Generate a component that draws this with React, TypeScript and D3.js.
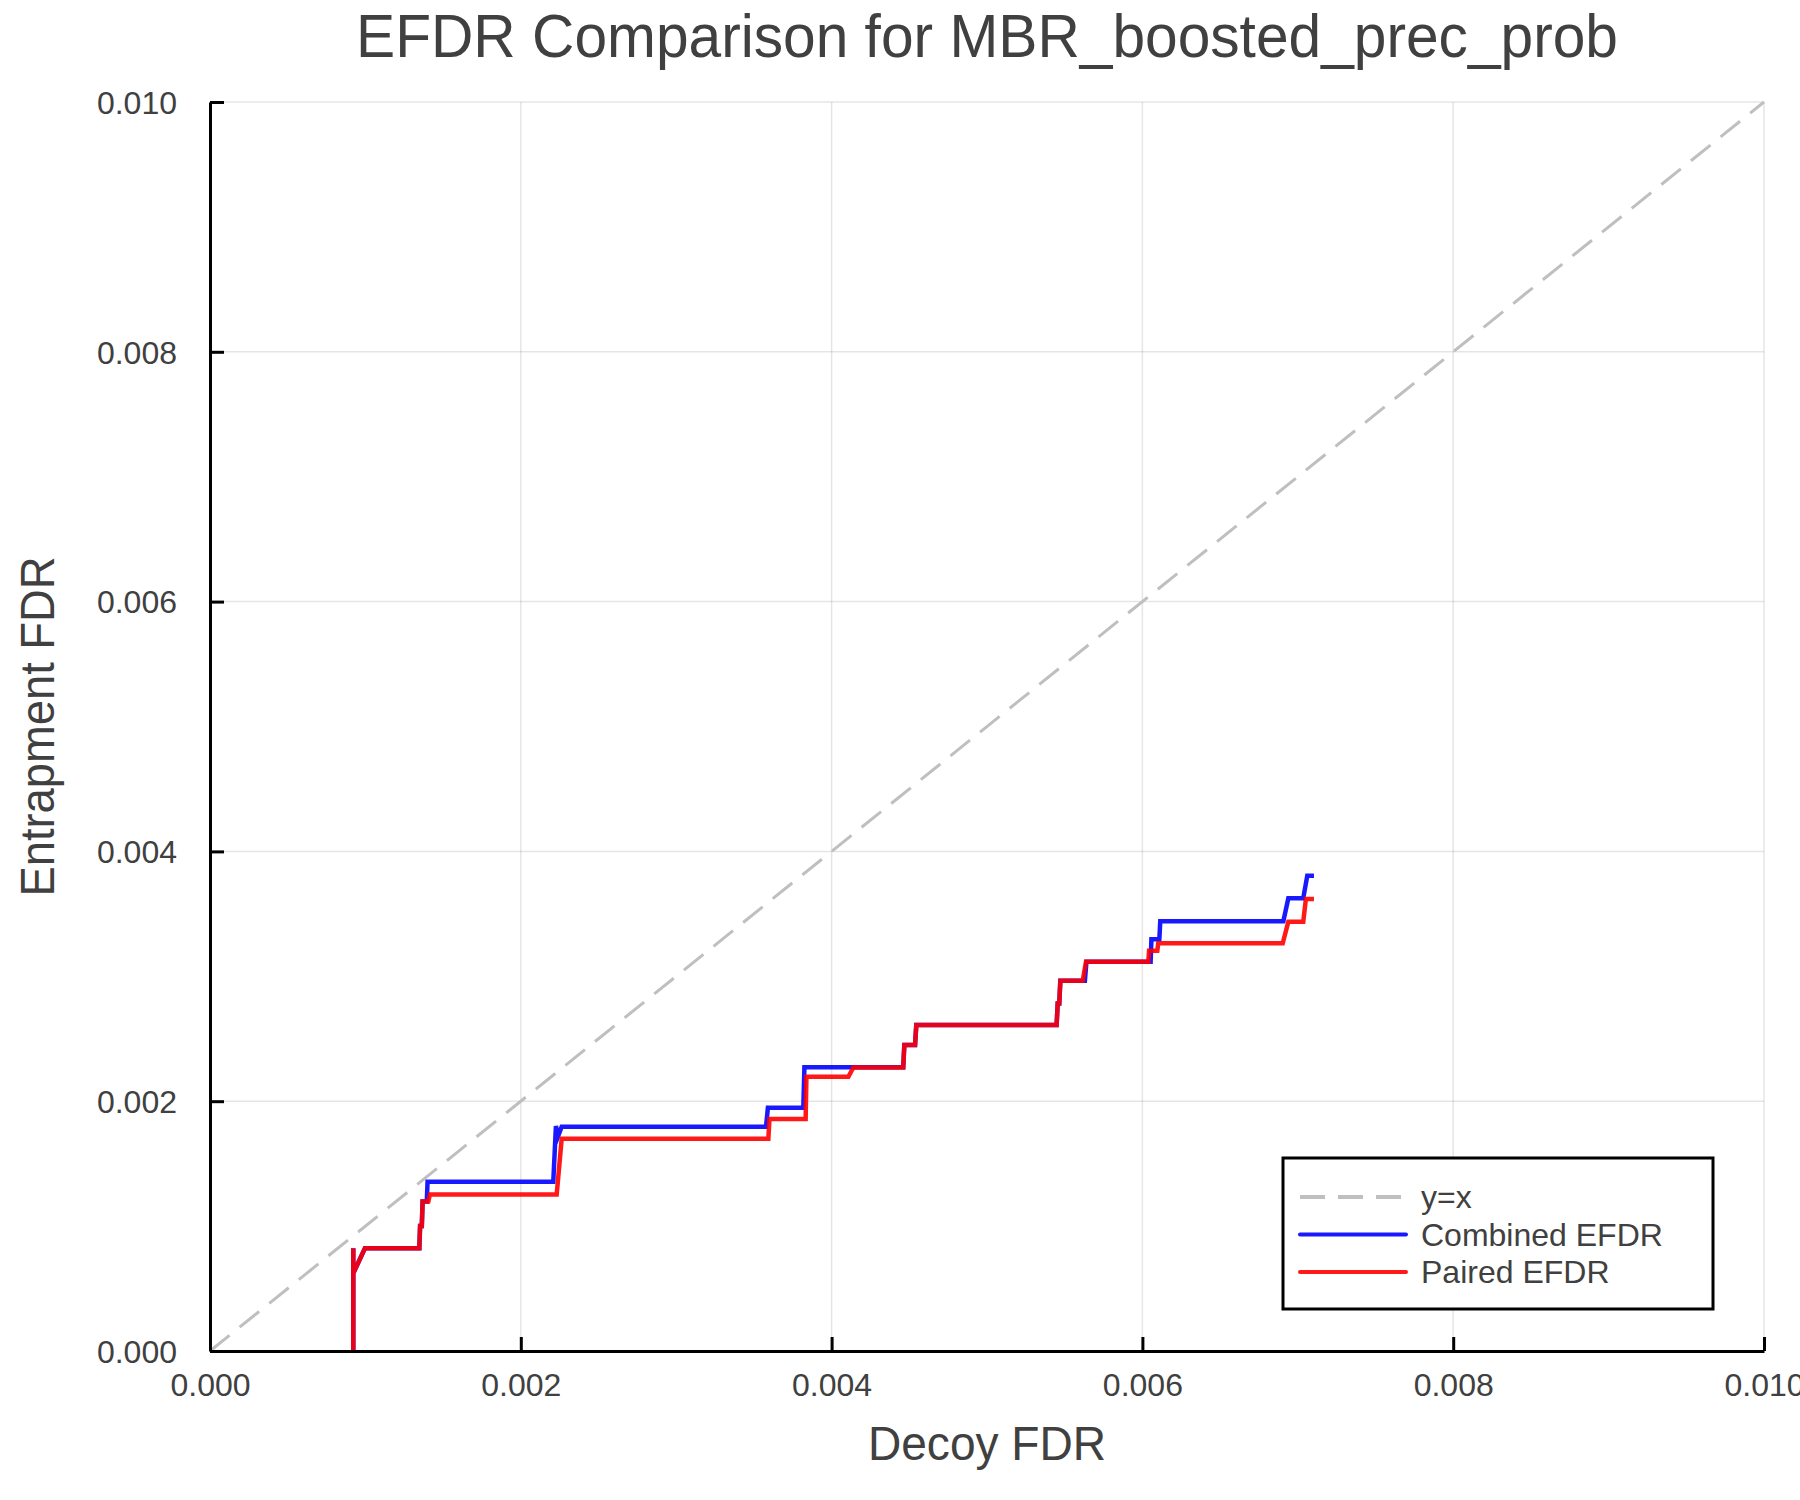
import React, { useEffect, useRef } from "react";
import * as d3 from "d3";

// tick values (both axes)
const ticks = [0, 0.002, 0.004, 0.006, 0.008, 0.01];

// Combined EFDR curve
const combinedX = [
  0.000922, 0.000922, 0.000922, 0.000997, 0.001347, 0.001352, 0.001363, 0.001368,
  0.001395, 0.0014, 0.002209, 0.002226, 0.00224, 0.002263, 0.003578, 0.00359,
  0.003818, 0.003825, 0.004461, 0.004468, 0.004537, 0.004545, 0.005448, 0.005455,
  0.005465, 0.005472, 0.00563, 0.00564, 0.006053, 0.006058, 0.006109, 0.006115,
  0.006907, 0.006939, 0.007035, 0.007061, 0.007104,
];
const combinedY = [
  0, 0.000822, 0.000622, 0.000822, 0.000822, 0.001001, 0.001001, 0.001196,
  0.001196, 0.001356, 0.001356, 0.001801, 0.00172, 0.001796, 0.001796, 0.001948,
  0.001948, 0.002271, 0.002271, 0.00245, 0.00245, 0.00261, 0.00261, 0.002783,
  0.002783, 0.002965, 0.002965, 0.003117, 0.003117, 0.003296, 0.003296, 0.003441,
  0.003441, 0.003624, 0.003624, 0.003806, 0.003806,
];

// Paired EFDR curve
const pairedX = [
  0.000922, 0.000922, 0.000922, 0.000997, 0.001347, 0.001352, 0.001363, 0.001368,
  0.001405, 0.001415, 0.002231, 0.002263, 0.003593, 0.0036, 0.003833, 0.003838,
  0.004108, 0.00414, 0.004461, 0.004468, 0.004537, 0.004545, 0.005448, 0.005455,
  0.005465, 0.005472, 0.005616, 0.005637, 0.006038, 0.006043, 0.006096, 0.006102,
  0.006903, 0.006939, 0.007035, 0.007052, 0.007104,
];
const pairedY = [
  0, 0.000822, 0.000622, 0.000822, 0.000822, 0.001001, 0.001001, 0.001196,
  0.001196, 0.001254, 0.001254, 0.001699, 0.001699, 0.001857, 0.001857, 0.002196,
  0.002196, 0.00227, 0.00227, 0.00245, 0.00245, 0.00261, 0.00261, 0.002783,
  0.002783, 0.002965, 0.002965, 0.003117, 0.003117, 0.003205, 0.003205, 0.003264,
  0.003264, 0.003437, 0.003437, 0.003619, 0.003619,
];

const legendItems = [
  { label: "y=x", color: "#bfbfbf", dash: "25 13" },
  { label: "Combined EFDR", color: "#0000ff", dash: null },
  { label: "Paired EFDR", color: "#ff0000", dash: null },
];

const FONT = "'Liberation Sans', Arial, Helvetica, sans-serif";
const TEXT = "#404040";

const App = () => {
  const svgRef = useRef<SVGSVGElement | null>(null);
  const w = 1800;
  const h = 1500;
  const m = { top: 102, right: 36, bottom: 149, left: 210 };

  useEffect(() => {
    document.body.style.margin = "0";
    const svg = d3.select(svgRef.current);
    svg.selectAll("*").remove();
    svg.attr("width", w).attr("height", h).style("background", "#fff");

    const xScale = d3.scaleLinear().domain([0, 0.01]).range([m.left, w - m.right]);
    const yScale = d3.scaleLinear().domain([0, 0.01]).range([h - m.bottom, m.top]);

    // grid
    const grid = svg.append("g");
    grid.selectAll(".gx").data(ticks).enter().append("line")
      .attr("x1", (d) => xScale(d)).attr("x2", (d) => xScale(d))
      .attr("y1", yScale(0)).attr("y2", yScale(0.01))
      .attr("stroke", "#000").attr("stroke-opacity", 0.1).attr("stroke-width", 1.5);
    grid.selectAll(".gy").data(ticks).enter().append("line")
      .attr("y1", (d) => yScale(d)).attr("y2", (d) => yScale(d))
      .attr("x1", xScale(0)).attr("x2", xScale(0.01))
      .attr("stroke", "#000").attr("stroke-opacity", 0.1).attr("stroke-width", 1.5);

    // y = x reference line
    svg.append("line")
      .attr("x1", xScale(0)).attr("y1", yScale(0))
      .attr("x2", xScale(0.01)).attr("y2", yScale(0.01))
      .attr("stroke", "#bfbfbf").attr("stroke-width", 3)
      .attr("stroke-dasharray", "25 13");

    const line = d3.line<[number, number]>()
      .x((d) => xScale(d[0]))
      .y((d) => yScale(d[1]));

    const combined = combinedX.map((x, i) => [x, combinedY[i]] as [number, number]);
    const paired = pairedX.map((x, i) => [x, pairedY[i]] as [number, number]);

    svg.append("path").datum(combined)
      .attr("d", line).attr("fill", "none")
      .attr("stroke", "#0000ff").attr("stroke-opacity", 0.9).attr("stroke-width", 4.5);
    svg.append("path").datum(paired)
      .attr("d", line).attr("fill", "none")
      .attr("stroke", "#ff0000").attr("stroke-opacity", 0.9).attr("stroke-width", 4.5);

    // axes
    const xAxis = d3.axisBottom(xScale).tickValues(ticks).tickSizeInner(-14).tickSizeOuter(0).tickFormat(d3.format(".3f"));
    const yAxis = d3.axisLeft(yScale).tickValues(ticks).tickSizeInner(-14).tickSizeOuter(0).tickFormat(d3.format(".3f"));

    const gx = svg.append("g").attr("transform", `translate(0, ${yScale(0)})`).call(xAxis);
    const gy = svg.append("g").attr("transform", `translate(${xScale(0)}, 0)`).call(yAxis);

    [gx, gy].forEach((g) => {
      g.select(".domain").attr("stroke", "#000").attr("stroke-width", 3);
      g.selectAll(".tick line").attr("stroke", "#000").attr("stroke-width", 3);
      g.selectAll(".tick text")
        .attr("fill", TEXT).style("font-family", FONT).style("font-size", "32px");
    });
    gx.selectAll(".tick text").attr("y", 22).attr("dy", "0.71em");
    gy.selectAll(".tick text").attr("x", -33).attr("dy", "0.35em");

    // title and labels
    const cx = (xScale(0) + xScale(0.01)) / 2;
    svg.append("text")
      .attr("x", cx).attr("y", 57)
      .attr("text-anchor", "middle").attr("fill", TEXT)
      .attr("textLength", 1262).attr("lengthAdjust", "spacingAndGlyphs")
      .style("font-family", FONT).style("font-size", "62px")
      .text("EFDR Comparison for MBR_boosted_prec_prob");

    svg.append("text")
      .attr("x", cx).attr("y", 1460)
      .attr("text-anchor", "middle").attr("fill", TEXT)
      .attr("textLength", 238).attr("lengthAdjust", "spacingAndGlyphs")
      .style("font-family", FONT).style("font-size", "48px")
      .text("Decoy FDR");

    svg.append("text")
      .attr("transform", `translate(54, ${(yScale(0) + yScale(0.01)) / 2}) rotate(-90)`)
      .attr("text-anchor", "middle").attr("fill", TEXT)
      .attr("textLength", 340).attr("lengthAdjust", "spacingAndGlyphs")
      .style("font-family", FONT).style("font-size", "48px")
      .text("Entrapment FDR");

    // legend
    const lg = svg.append("g").attr("transform", "translate(1283, 1158)");
    lg.append("rect")
      .attr("width", 430).attr("height", 151)
      .attr("fill", "#fff").attr("stroke", "#000").attr("stroke-width", 3);
    legendItems.forEach((item, i) => {
      const yy = 39 + i * 37.5;
      lg.append("line")
        .attr("x1", 17).attr("x2", 123).attr("y1", yy).attr("y2", yy)
        .attr("stroke", item.color).attr("stroke-width", 4)
        .attr("stroke-opacity", item.dash ? 1 : 0.9)
        .attr("stroke-linecap", item.dash ? "butt" : "round")
        .attr("stroke-dasharray", item.dash ?? null);
      lg.append("text")
        .attr("x", 138).attr("y", yy).attr("dy", "0.35em")
        .attr("fill", TEXT).style("font-family", FONT).style("font-size", "32px")
        .text(item.label);
    });
  }, []);

  return (
    <div style={{ position: "absolute", left: 0, top: 0 }}>
      <svg ref={svgRef}></svg>
    </div>
  );
};

export default App;
